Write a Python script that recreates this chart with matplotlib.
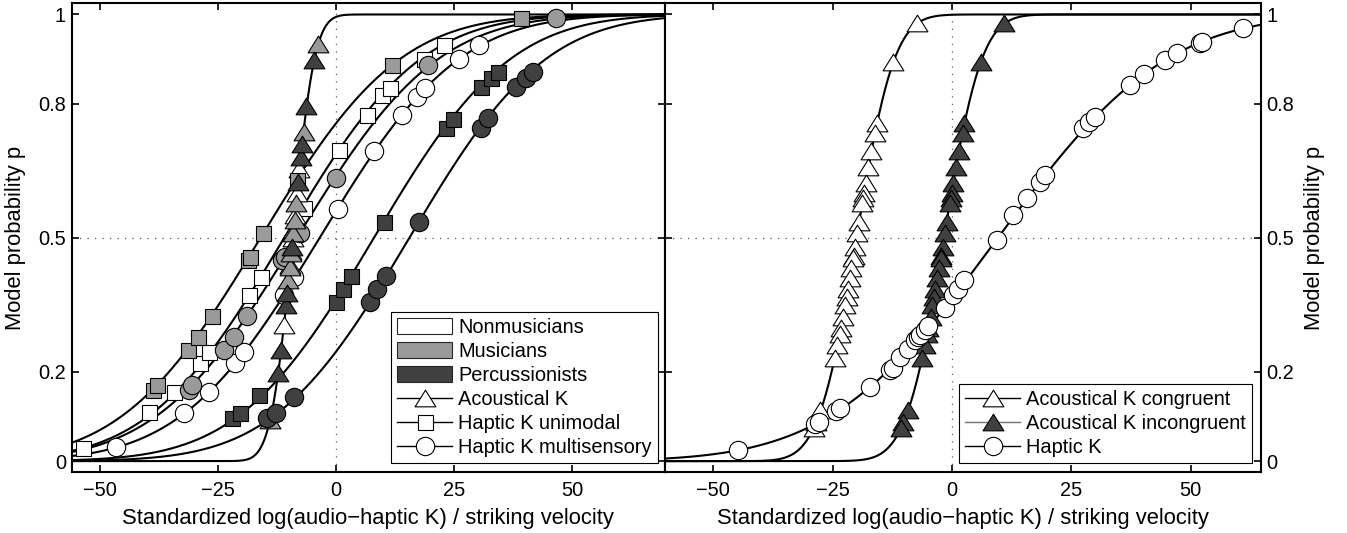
import math
import numpy as np
import matplotlib
matplotlib.use('Agg')
import matplotlib.pyplot as plt
from matplotlib.lines import Line2D
from matplotlib.patches import Patch
from matplotlib.path import Path

plt.rcParams['font.family'] = ['Liberation Sans', 'DejaVu Sans']
plt.rcParams['font.size'] = 14.4

### DATA (model probability p vs standardized stimulus) ###
group_names = ['Nonmusicians', 'Musicians', 'Percussionists']
group_colors = ['white', '#9a9a9a', '#404040']

# Nonmusicians
non_sq_x = [-53.5, -39.7, -34.4, -28.8, -27.0, -18.5, -16.0, -6.9, 0.6, 6.5, 9.8, 11.4, 18.6, 22.9]
non_sq_p = [0.030, 0.110, 0.155, 0.219, 0.245, 0.372, 0.413, 0.567, 0.697, 0.776, 0.820, 0.835, 0.900, 0.932]
non_ci_x = [-46.5, -32.3, -27.0, -21.3, -19.6, -11.1, -9.0, 0.3, 8.0, 13.9, 17.2, 18.9, 26.1, 30.3]
non_ci_p = [0.032, 0.107, 0.155, 0.219, 0.245, 0.372, 0.413, 0.564, 0.695, 0.776, 0.816, 0.835, 0.900, 0.932]
non_tr_x = [-11.0, -9.7, -9.5, -9.2, -9.0, -8.8, -8.3, -7.8]
non_tr_p = [0.305, 0.440, 0.470, 0.500, 0.520, 0.550, 0.600, 0.655]

# Musicians
mus_sq_x = [-38.7, -37.9, -31.3, -29.2, -26.2, -18.6, -18.2, -15.4, -8.2, 11.9, 39.2]
mus_sq_p = [0.159, 0.170, 0.249, 0.278, 0.325, 0.450, 0.457, 0.510, 0.630, 0.887, 0.991]
mus_ci_x = [-31.2, -30.5, -23.8, -21.7, -18.9, -11.4, -10.8, -7.6, -0.1, 19.4, 46.6]
mus_ci_p = [0.159, 0.170, 0.249, 0.278, 0.325, 0.450, 0.457, 0.510, 0.634, 0.887, 0.991]
mus_tr_x = [-14.0, -10.1, -9.8, -9.5, -9.1, -8.8, -8.5, -6.9, -3.8]
mus_tr_p = [0.092, 0.405, 0.435, 0.465, 0.510, 0.540, 0.577, 0.737, 0.935]

# Percussionists
per_sq_x = [-22.0, -20.3, -16.4, -0.1, 1.5, 3.1, 10.1, 23.2, 24.8, 30.7, 32.8, 34.2]
per_sq_p = [0.096, 0.108, 0.148, 0.357, 0.385, 0.414, 0.536, 0.745, 0.766, 0.837, 0.858, 0.872]
per_ci_x = [-14.6, -12.8, -9.0, 7.2, 8.7, 10.5, 17.6, 30.7, 32.2, 38.1, 40.2, 41.7]
per_ci_p = [0.096, 0.108, 0.144, 0.357, 0.385, 0.414, 0.536, 0.745, 0.768, 0.837, 0.858, 0.872]
per_tr_x = [-12.3, -11.7, -10.6, -10.3, -9.4, -8.1, -7.5, -7.2, -6.3, -4.6]
per_tr_p = [0.197, 0.248, 0.350, 0.376, 0.480, 0.626, 0.680, 0.711, 0.794, 0.898]

# fitted psychometric curves (centre, spread), left panel
curve_acoustic = (-9.2, 3.6)
curve_non_sq = (-11.0, 22.5)
curve_non_ci = (-3.5, 23.0)
curve_mus_sq = (-16.0, 23.0)
curve_mus_ci = (-8.3, 23.3)
curve_per_sq = (8.0, 22.5)
curve_per_ci = (15.5, 22.5)

# right panel
cong_x = [-7.4, -12.3, -15.7, -16.1, -16.9, -17.5, -18.1, -18.4, -18.6, -18.8, -19.4, -19.8, -20.3, -20.6,
          -20.7, -21.1, -21.4, -21.8, -22.1, -22.4, -22.8, -23.3, -23.5, -24.0, -24.6, -27.6, -28.5, -29.0]
cong_p = [0.982, 0.894, 0.756, 0.734, 0.695, 0.659, 0.623, 0.600, 0.588, 0.578, 0.536, 0.510, 0.480, 0.460,
          0.455, 0.432, 0.409, 0.386, 0.368, 0.350, 0.323, 0.297, 0.285, 0.260, 0.230, 0.114, 0.088, 0.075]
incong_x = [10.9, 6.0, 2.6, 2.2, 1.4, 0.8, 0.2, -0.1, -0.3, -0.5, -1.1, -1.5, -2.0, -2.3,
            -2.4, -2.8, -3.1, -3.5, -3.8, -4.1, -4.5, -5.0, -5.2, -5.7, -6.3, -9.3, -10.2, -10.7]
incong_p = [0.982, 0.894, 0.756, 0.734, 0.695, 0.659, 0.623, 0.600, 0.588, 0.578, 0.536, 0.510, 0.480, 0.460,
            0.455, 0.432, 0.409, 0.386, 0.368, 0.350, 0.323, 0.297, 0.285, 0.260, 0.230, 0.114, 0.088, 0.075]
hap_x = [-44.8, -28.7, -27.9, -24.2, -23.5, -17.2, -13.0, -12.4, -10.9, -9.2, -7.8, -7.2, -6.7, -5.6, -5.0,
         -1.5, 0.3, 1.3, 2.4, 9.4, 12.8, 15.7, 18.4, 19.5, 27.5, 28.6, 30.0, 37.3, 40.1, 44.6, 47.2, 52.0, 52.3, 60.9]
hap_p = [0.025, 0.084, 0.088, 0.113, 0.118, 0.166, 0.204, 0.209, 0.234, 0.252, 0.271, 0.277, 0.282, 0.294, 0.302,
         0.342, 0.372, 0.386, 0.405, 0.495, 0.551, 0.588, 0.626, 0.641, 0.745, 0.760, 0.771, 0.842, 0.867, 0.898,
         0.914, 0.937, 0.939, 0.969]
curve_cong = (-20.0, 6.2)
curve_incong = (-1.7, 6.2)
curve_hap = (9.6, 27.6)

yticks = [0, 0.2, 0.5, 0.8, 1]
ytick_labels = ['0', '0.2', '0.5', '0.8', '1']
xticks = [-50, -25, 0, 25, 50]
xlabel = 'Standardized log(audio\u2212haptic K) / striking velocity'
ylabel = 'Model probability p'
label_size = 15.8

### HELPERS ###
_erf = np.vectorize(math.erf)

def ncdf(x, params):
	mu, sd = params
	return 0.5 * (1 + _erf((x - mu) / (sd * math.sqrt(2))))

# MATLAB-like flat triangle
tri = Path([(0, 0.8), (-1, -0.8), (1, -0.8), (0, 0.8)], closed=True)
mk = {'tri': (tri, 15), 'sq': ('s', 10.8), 'ci': ('o', 13.2)}

def pts(ax, x, p, kind, fc, z=3):
	m, ms = mk[kind]
	ax.plot(x, p, linestyle='none', marker=m, markersize=ms, markerfacecolor=fc,
			markeredgecolor='k', markeredgewidth=0.8, zorder=z)

def style(ax, xlim):
	ax.set_xlim(*xlim)
	ax.set_ylim(-0.025, 1.025)
	ax.set_xticks(xticks)
	ax.set_yticks(yticks)
	ax.set_yticklabels(ytick_labels)
	ax.tick_params(direction='in', length=5, width=1.2, top=True, right=True, pad=4)
	ax.tick_params(axis='x', pad=6)
	for s in ax.spines.values():
		s.set_linewidth(1.5)
	ax.axvline(0, color='0.35', linestyle=(0, (1, 5)), linewidth=0.9, zorder=1)
	ax.axhline(0.5, color='0.35', linestyle=(0, (1, 5)), linewidth=0.9, zorder=1)
	ax.set_xlabel(xlabel, fontsize=label_size, labelpad=6)

### PLOTTING ###
fig = plt.figure(figsize=(13.47, 5.33), dpi=100)
ax1 = fig.add_axes([0.0531, 0.1139, 0.4406, 0.8799])
ax2 = fig.add_axes([0.4937, 0.1139, 0.4425, 0.8799])

xl1 = (-56.0, 69.6)
xs = np.linspace(xl1[0], xl1[1], 600)
for c in [curve_acoustic, curve_non_sq, curve_non_ci, curve_mus_sq, curve_mus_ci, curve_per_sq, curve_per_ci]:
	ax1.plot(xs, ncdf(xs, c), 'k-', linewidth=1.5, zorder=2)

pts(ax1, non_sq_x, non_sq_p, 'sq', group_colors[0])
pts(ax1, non_ci_x, non_ci_p, 'ci', group_colors[0])
pts(ax1, non_tr_x, non_tr_p, 'tri', group_colors[0])
pts(ax1, mus_sq_x, mus_sq_p, 'sq', group_colors[1])
pts(ax1, mus_ci_x, mus_ci_p, 'ci', group_colors[1])
pts(ax1, mus_tr_x, mus_tr_p, 'tri', group_colors[1])
pts(ax1, per_sq_x, per_sq_p, 'sq', group_colors[2])
pts(ax1, per_ci_x, per_ci_p, 'ci', group_colors[2])
pts(ax1, per_tr_x, per_tr_p, 'tri', group_colors[2])

style(ax1, xl1)
ax1.set_ylabel(ylabel, fontsize=label_size)
ax1.yaxis.set_label_coords(-0.076, 0.5)

handles1 = [Patch(facecolor=c, edgecolor='0.15', linewidth=0.8) for c in group_colors]
handles1 += [Line2D([], [], color='k', linewidth=1.0, marker=mk[k][0], markersize=mk[k][1],
					markerfacecolor='white', markeredgecolor='k', markeredgewidth=0.8) for k in ['tri', 'sq', 'ci']]
labels1 = group_names + ['Acoustical K', 'Haptic K unimodal', 'Haptic K multisensory']
leg_kw = dict(loc='lower right', fancybox=False, framealpha=1, edgecolor='k', borderaxespad=0,
			  handlelength=2.75, handleheight=0.85, labelspacing=0.25, borderpad=0.3, handletextpad=0.3,
			  fontsize=14.4)
lg1 = ax1.legend(handles1, labels1, bbox_to_anchor=(0.988, 0.0198), **leg_kw)
lg1.get_frame().set_linewidth(0.8)

xl2 = (-60.1, 64.7)
xs2 = np.linspace(xl2[0], xl2[1], 600)
for c in [curve_cong, curve_incong, curve_hap]:
	ax2.plot(xs2, ncdf(xs2, c), 'k-', linewidth=1.5, zorder=2)
pts(ax2, cong_x, cong_p, 'tri', 'white')
pts(ax2, incong_x, incong_p, 'tri', group_colors[2])
pts(ax2, hap_x, hap_p, 'ci', 'white')

style(ax2, xl2)
ax2.tick_params(labelleft=False, labelright=True)
ax2.yaxis.set_label_position('right')
ax2.set_ylabel(ylabel, fontsize=label_size)
ax2.yaxis.set_label_coords(1.072, 0.5)

handles2 = [Line2D([], [], color='k', linewidth=1.0, marker=tri, markersize=15,
				   markerfacecolor='white', markeredgecolor='k', markeredgewidth=0.8),
			Line2D([], [], color='0.45', linewidth=1.0, marker=tri, markersize=15,
				   markerfacecolor=group_colors[2], markeredgecolor='k', markeredgewidth=0.8),
			Line2D([], [], color='k', linewidth=1.0, marker='o', markersize=13.2,
				   markerfacecolor='white', markeredgecolor='k', markeredgewidth=0.8)]
labels2 = ['Acoustical K congruent', 'Acoustical K incongruent', 'Haptic K']
lg2 = ax2.legend(handles2, labels2, bbox_to_anchor=(0.985, 0.0198), **leg_kw)
lg2.get_frame().set_linewidth(0.8)

plt.savefig('out.png', dpi=100)
